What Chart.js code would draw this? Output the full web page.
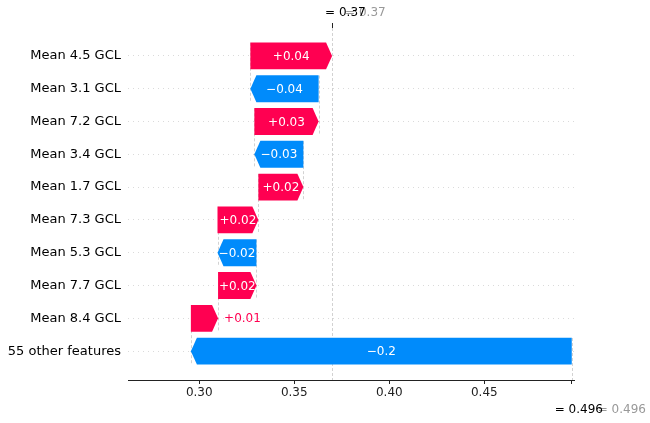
<!DOCTYPE html>
<html>
<head>
<meta charset="utf-8">
<script src="https://cdn.jsdelivr.net/npm/chart.js@4.4.0/dist/chart.umd.min.js"></script>
<style>
  html, body { margin: 0; padding: 0; background: #fff; }
</style>
</head>
<body>
<canvas id="waterfall" width="650" height="423"></canvas>
<script>
// rows top to bottom
var features = ['Mean 4.5 GCL', 'Mean 3.1 GCL', 'Mean 7.2 GCL', 'Mean 3.4 GCL', 'Mean 1.7 GCL',
  'Mean 7.3 GCL', 'Mean 5.3 GCL', 'Mean 7.7 GCL', 'Mean 8.4 GCL', '55 other features'];
var shapValues = [0.043, -0.0359, 0.0338, -0.0258, 0.0237, 0.0215, -0.0205, 0.0202, 0.0143, -0.2004];
var baseValue = 0.496;
var xTicks = [0.30, 0.35, 0.40, 0.45];

var RED = '#ff0051';
var BLUE = '#008bfb';
var FONT = '"DejaVu Sans", sans-serif';

// cumulative starts, built from the bottom row up
var starts = [], ends = [];
(function () {
  var acc = baseValue;
  for (var i = features.length - 1; i >= 0; i--) {
    starts[i] = acc;
    acc += shapValues[i];
    ends[i] = acc;
  }
})();
var fxValue = ends[0];

function fmtShap(v) {
  var s = Math.abs(v).toFixed(2).replace(/0+$/, '').replace(/\.$/, '');
  return (v < 0 ? '\u2212' : '+') + s;
}
function fmtVal(v) {
  return v.toFixed(3).replace(/0+$/, '').replace(/\.$/, '');
}

var guideLines = {
  id: 'guideLines',
  beforeDatasetsDraw: function (chart) {
    var ctx = chart.ctx, xs = chart.scales.x, ys = chart.scales.y, area = chart.chartArea;
    ctx.save();
    ctx.strokeStyle = '#d2d2d2';
    ctx.lineWidth = 1;
    ctx.setLineDash([3, 2]);
    function vline(v, y0, y1) {
      var x = Math.round(xs.getPixelForValue(v)) + 0.5;
      ctx.beginPath();
      ctx.moveTo(x, Math.max(y0, area.top));
      ctx.lineTo(x, Math.min(y1, area.bottom));
      ctx.stroke();
    }
    for (var i = 0; i < features.length; i++) {
      vline(starts[i], ys.getPixelForValue(i - 0.4), ys.getPixelForValue(i + 1.4));
    }
    vline(fxValue, area.top, area.bottom);
    ctx.restore();
  }
};

var arrows = {
  id: 'arrows',
  afterDatasetsDraw: function (chart) {
    var ctx = chart.ctx, xs = chart.scales.x;
    var meta = chart.getDatasetMeta(0);
    ctx.save();
    ctx.font = '12px ' + FONT;
    ctx.textBaseline = 'middle';
    meta.data.forEach(function (bar, i) {
      var x0 = xs.getPixelForValue(starts[i]);
      var x1 = xs.getPixelForValue(ends[i]);
      var dir = x1 >= x0 ? 1 : -1;
      var head = Math.min(6, Math.abs(x1 - x0));
      var top = bar.y - bar.height / 2, bot = bar.y + bar.height / 2;
      var color = shapValues[i] >= 0 ? RED : BLUE;
      ctx.fillStyle = color;
      ctx.beginPath();
      ctx.moveTo(x0, top);
      ctx.lineTo(x1 - dir * head, top);
      ctx.lineTo(x1, bar.y);
      ctx.lineTo(x1 - dir * head, bot);
      ctx.lineTo(x0, bot);
      ctx.closePath();
      ctx.fill();

      var label = fmtShap(shapValues[i]);
      var tw = ctx.measureText(label).width;
      if (tw < Math.abs(x1 - x0)) {
        ctx.fillStyle = '#fff';
        ctx.textAlign = 'center';
        ctx.fillText(label, (x0 + x1) / 2, bar.y + 1);
      } else {
        ctx.fillStyle = color;
        ctx.textAlign = dir > 0 ? 'left' : 'right';
        ctx.fillText(label, x1 + dir * 6, bar.y + 1);
      }
    });
    ctx.restore();
  }
};

var valueLabels = {
  id: 'valueLabels',
  afterDraw: function (chart) {
    var ctx = chart.ctx, xs = chart.scales.x, area = chart.chartArea;
    var fx = xs.getPixelForValue(fxValue);
    var bx = xs.getPixelForValue(baseValue);
    ctx.save();
    // top tick for f(x)
    ctx.strokeStyle = '#222';
    ctx.lineWidth = 1;
    ctx.beginPath();
    ctx.moveTo(Math.round(fx) + 0.5, area.top - 5);
    ctx.lineTo(Math.round(fx) + 0.5, area.top);
    ctx.stroke();

    ctx.font = '12px ' + FONT;
    ctx.textBaseline = 'middle';
    ctx.textAlign = 'left';
    var fxText = '= ' + fmtVal(fxValue);
    var baseText = '= ' + fmtVal(baseValue);
    ctx.fillStyle = '#999';
    ctx.fillText(fxText, fx + 13, 13);
    ctx.fillText(baseText, bx + 26, 410);
    ctx.fillStyle = '#000';
    ctx.fillText(fxText, fx - 7, 13);
    ctx.fillText(baseText, bx - 17, 410);
    ctx.restore();
  }
};

new Chart(document.getElementById('waterfall'), {
  type: 'bar',
  data: {
    datasets: [{
      data: features.map(function (f, i) { return { x: [starts[i], ends[i]], y: i }; }),
      backgroundColor: 'rgba(0,0,0,0)',
      borderWidth: 0,
      categoryPercentage: 1,
      barPercentage: 0.82
    }]
  },
  options: {
    indexAxis: 'y',
    responsive: false,
    animation: false,
    layout: { padding: { top: 28, right: 76, left: 0, bottom: 0 } },
    plugins: { legend: { display: false }, tooltip: { enabled: false } },
    scales: {
      x: {
        type: 'linear',
        position: 'bottom',
        min: 0.2625,
        max: 0.4972,
        afterBuildTicks: function (s) {
          s.ticks = xTicks.concat([baseValue]).map(function (v) { return { value: v }; });
        },
        afterFit: function (s) { s.height = 43; },
        ticks: {
          autoSkip: false,
          maxRotation: 0,
          padding: 2,
          color: '#222',
          font: { family: FONT, size: 12 },
          callback: function (v, idx) { return idx < xTicks.length ? v.toFixed(2) : ''; }
        },
        grid: { drawOnChartArea: false, drawTicks: true, tickLength: 4, tickColor: '#222' },
        border: { display: true, color: '#222', width: 1 }
      },
      y: {
        type: 'linear',
        reverse: true,
        offset: false,
        min: -0.85,
        max: 9.88,
        afterBuildTicks: function (s) {
          s.ticks = features.map(function (_, i) { return { value: i }; });
        },
        afterFit: function (s) { s.width = 128; },
        ticks: {
          autoSkip: false,
          padding: 7,
          color: '#000',
          font: { family: FONT, size: 13 },
          callback: function (v) { return features[v]; }
        },
        grid: { offset: false, color: '#dadada', lineWidth: 1, drawTicks: false },
        border: { display: false, dash: [1, 4] }
      }
    }
  },
  plugins: [guideLines, arrows, valueLabels]
});
</script>
</body>
</html>
